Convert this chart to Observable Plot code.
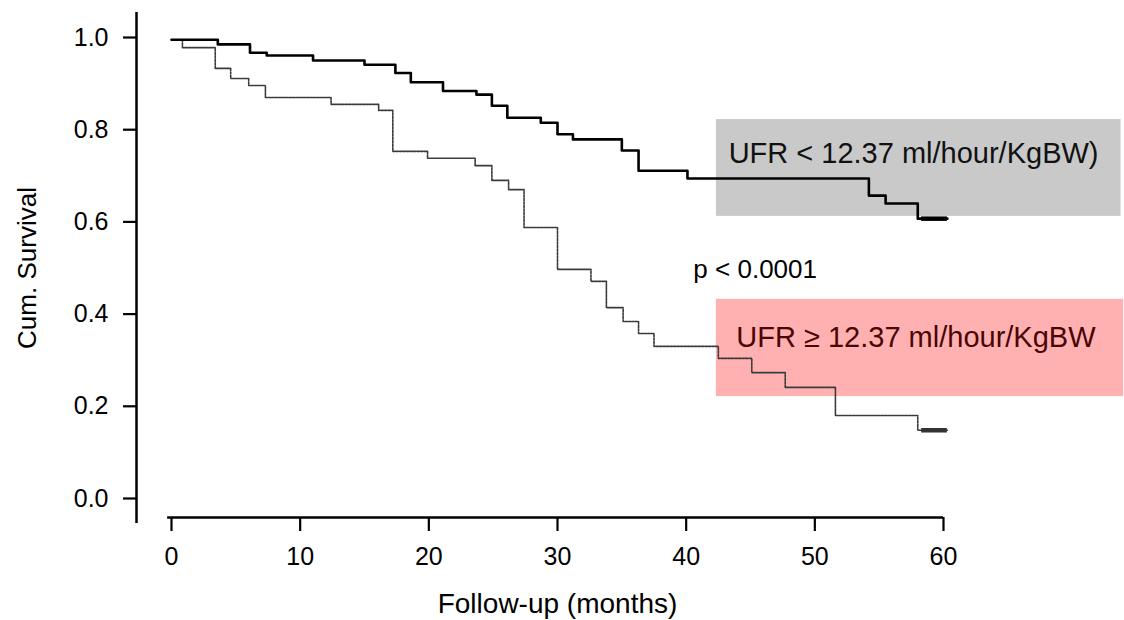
<!DOCTYPE html>
<html><head><meta charset="utf-8">
<script src="https://cdn.jsdelivr.net/npm/d3@7"></script>
<script src="https://cdn.jsdelivr.net/npm/@observablehq/plot@0.6"></script>
<style>body{margin:0;background:#fff;} #chart svg{display:block;}</style>
</head><body><div id="chart"></div>
<script>
// Kaplan-Meier step data (time in months, cumulative survival after the step)
const lowTimes = [0, 3.6, 6.1, 7.4, 11.0, 15.0, 17.4, 18.6, 21.1, 23.7, 24.9, 26.1, 28.7, 30.0, 31.2, 35.0, 36.3, 40.1, 54.2, 55.5, 58.0];
const lowSurv  = [0.995, 0.985, 0.967, 0.961, 0.950, 0.941, 0.923, 0.903, 0.884, 0.876, 0.852, 0.826, 0.815, 0.790, 0.779, 0.755, 0.711, 0.694, 0.657, 0.640, 0.607];
const highTimes = [0, 0.85, 3.4, 4.6, 6.0, 7.3, 12.4, 16.1, 17.2, 19.9, 23.6, 24.9, 26.2, 27.4, 30.0, 32.6, 33.8, 35.1, 36.3, 37.5, 42.5, 45.1, 47.7, 51.6, 58.0];
const highSurv  = [0.995, 0.978, 0.933, 0.911, 0.896, 0.870, 0.855, 0.842, 0.753, 0.738, 0.722, 0.690, 0.670, 0.588, 0.497, 0.471, 0.414, 0.384, 0.358, 0.330, 0.304, 0.273, 0.241, 0.180, 0.148];
const followEnd = 60.3;
const censorStart = 58.3;

const groupLabels = ["UFR < 12.37 ml/hour/KgBW)", "UFR \u2265 12.37 ml/hour/KgBW"];
const boxFills = ["#c9c9c9", "#ffb1b1"];
const textFills = ["#111111", "#4a0505"];
// label boxes (in data units of the chart)
const boxX1 = [42.35, 42.35];
const boxX2 = [73.8, 74.0];
const boxY1 = [0.612, 0.221];
const boxY2 = [0.822, 0.432];
const labelX = [43.3, 43.9];
const labelY = [0.748, 0.348];

const pText = "p < 0.0001";
const pX = 40.56, pY = 0.496;

const xTicks = [0, 10, 20, 30, 40, 50, 60];
const yTicks = [0, 0.2, 0.4, 0.6, 0.8, 1.0];
const xTitle = "Follow-up (months)";
const yTitle = "Cum. Survival";

function steps(times, surv) {
  const pts = times.map((t, i) => ({t, s: surv[i]}));
  pts.push({t: followEnd, s: surv[surv.length - 1]});
  return pts;
}
const lowData = steps(lowTimes, lowSurv);
const highData = steps(highTimes, highSurv);
const boxes = groupLabels.map((g, i) => ({x1: boxX1[i], x2: boxX2[i], y1: boxY1[i], y2: boxY2[i], fill: boxFills[i], label: g, lx: labelX[i], ly: labelY[i], tf: textFills[i]}));
const censors = [
  {x1: censorStart, x2: followEnd, y: lowSurv[lowSurv.length - 1], c: "#000"},
  {x1: censorStart, x2: followEnd, y: highSurv[highSurv.length - 1], c: "#333"}
];

const font = "'Liberation Sans', Arial, Helvetica, sans-serif";

const chart = Plot.plot({
  width: 1124,
  height: 620,
  marginLeft: 171,
  marginRight: 181,
  marginTop: 37,
  marginBottom: 122,
  style: {fontFamily: font, fontSize: "25px", color: "#000", background: "#fff", overflow: "visible"},
  x: {domain: [0, 60]},
  y: {domain: [0, 1]},
  marks: [
    Plot.rect(boxes, {x1: "x1", x2: "x2", y1: "y1", y2: "y2", fill: "fill"}),
    Plot.ruleX([0], {y1: -0.054, y2: 1.054, dx: -35, stroke: "#000", strokeWidth: 2.5}),
    Plot.ruleY([0], {x1: -0.3, x2: 60, dy: 19, stroke: "#000", strokeWidth: 2.5}),
    Plot.axisY({ticks: yTicks, tickFormat: d3.format(".1f"), tickSize: 13, tickPadding: 15, dx: -35, label: null, strokeWidth: 2.2}),
    Plot.axisX({ticks: xTicks, tickFormat: d3.format("d"), tickSize: 14, tickPadding: 16, dy: 19, label: null, strokeWidth: 2.2}),
    Plot.line(highData, {x: "t", y: "s", curve: "step-after", stroke: "#3a3a3a", strokeWidth: 1.6, strokeDasharray: "2.5 1"}),
    Plot.line(lowData, {x: "t", y: "s", curve: "step-after", stroke: "#000", strokeWidth: 2.6}),
    Plot.ruleY(censors, {x1: "x1", x2: "x2", y: "y", stroke: "c", strokeWidth: 4.5}),
    Plot.text(boxes, {x: "lx", y: "ly", text: "label", fill: "tf", textAnchor: "start", lineAnchor: "middle", fontSize: 29}),
    Plot.text([pText], {x: pX, y: pY, text: d => d, textAnchor: "start", lineAnchor: "middle", fontSize: 26, fill: "#000"}),
    Plot.text([xTitle], {frameAnchor: "bottom", text: d => d, textAnchor: "middle", lineAnchor: "middle", dy: 106, fontSize: 28, fill: "#000"}),
    Plot.text([yTitle], {frameAnchor: "left", text: d => d, textAnchor: "middle", rotate: -90, dx: -144, fontSize: 26, fill: "#000"})
  ]
});
document.getElementById("chart").appendChild(chart);
</script>
</body></html>
